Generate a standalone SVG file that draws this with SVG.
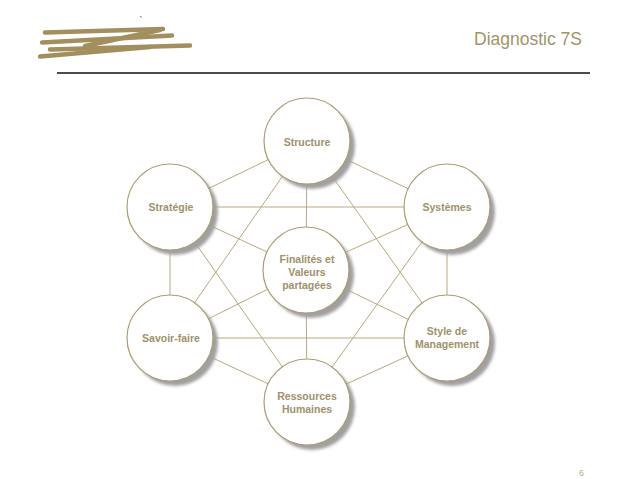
<svg xmlns="http://www.w3.org/2000/svg" width="638" height="479" viewBox="0 0 638 479">
<defs>
<filter id="blur" x="-20%" y="-20%" width="140%" height="140%"><feGaussianBlur stdDeviation="1.5"/></filter>
<style>
.title{font-family:"Liberation Sans",Arial,sans-serif;font-size:17.5px;fill:#a09469}
.pg{font-family:"Liberation Sans",Arial,sans-serif;font-size:9px;fill:#b8ad8a}
.lbl{font-family:"Liberation Sans",Arial,sans-serif;font-size:10.5px;font-weight:bold;fill:#a0916a;text-anchor:middle}
.conn line{stroke:#b9a97f;stroke-width:1}
.sh{fill:#a0a0a0;filter:url(#blur)}
.nd{fill:#ffffff;stroke:#ab9c72;stroke-width:1.2}
.scr{stroke:#a38f5d;stroke-width:4.5;stroke-linecap:round;fill:none}
</style>
</defs>
<rect width="638" height="479" fill="#ffffff"/>
<g id="header">
<path class="scr" d="M45 32.5 L163 29"/>
<path class="scr" d="M42 42.5 L172 35.5"/>
<path class="scr" d="M50 49.5 L190 45.5"/>
<path class="scr" d="M40 56.5 L150 47"/>
<path class="scr" d="M85 46 L160 30"/>
<text x="139" y="26" style="font-family:'Liberation Sans',Arial,sans-serif;font-size:12px;fill:#8f7f55">`</text>
<text class="title" x="474" y="45">Diagnostic 7S</text>
<line x1="57" y1="73" x2="590" y2="73" stroke="#111" stroke-width="1.4"/>
</g>
<g id="connectors" class="conn">
<line x1="307" y1="141" x2="170" y2="207"/>
<line x1="307" y1="141" x2="447" y2="207"/>
<line x1="307" y1="141" x2="306" y2="270"/>
<line x1="307" y1="141" x2="170" y2="338"/>
<line x1="307" y1="141" x2="447" y2="338"/>
<line x1="170" y1="207" x2="447" y2="207"/>
<line x1="170" y1="207" x2="306" y2="270"/>
<line x1="170" y1="207" x2="170" y2="338"/>
<line x1="170" y1="207" x2="307" y2="402"/>
<line x1="447" y1="207" x2="306" y2="270"/>
<line x1="447" y1="207" x2="447" y2="338"/>
<line x1="447" y1="207" x2="307" y2="402"/>
<line x1="170" y1="338" x2="306" y2="270"/>
<line x1="170" y1="338" x2="447" y2="338"/>
<line x1="170" y1="338" x2="307" y2="402"/>
<line x1="447" y1="338" x2="306" y2="270"/>
<line x1="447" y1="338" x2="307" y2="402"/>
<line x1="306" y1="270" x2="307" y2="402"/>
</g>
<g id="structure">
<circle class="sh" cx="312" cy="146" r="43"/>
<circle class="nd" cx="307" cy="141" r="43"/>
<text class="lbl" x="307" y="145.5">Structure</text>
</g>
<g id="strategie">
<circle class="sh" cx="175" cy="212" r="43"/>
<circle class="nd" cx="170" cy="207" r="43"/>
<text class="lbl" x="171" y="210.5">Stratégie</text>
</g>
<g id="systemes">
<circle class="sh" cx="452" cy="212" r="43"/>
<circle class="nd" cx="447" cy="207" r="43"/>
<text class="lbl" x="447" y="210.5">Systèmes</text>
</g>
<g id="finalites">
<circle class="sh" cx="311" cy="275" r="43"/>
<circle class="nd" cx="306" cy="270" r="43"/>
<text class="lbl" x="307" y="262.5">Finalités et</text>
<text class="lbl" x="307" y="275.5">Valeurs</text>
<text class="lbl" x="307" y="288.5">partagées</text>
</g>
<g id="savoir-faire">
<circle class="sh" cx="175" cy="343" r="43"/>
<circle class="nd" cx="170" cy="338" r="43"/>
<text class="lbl" x="171" y="341.5">Savoir-faire</text>
</g>
<g id="style">
<circle class="sh" cx="452" cy="343" r="43"/>
<circle class="nd" cx="447" cy="338" r="43"/>
<text class="lbl" x="447" y="335">Style de</text>
<text class="lbl" x="447" y="347.5">Management</text>
</g>
<g id="ressources">
<circle class="sh" cx="312" cy="407" r="43"/>
<circle class="nd" cx="307" cy="402" r="43"/>
<text class="lbl" x="307" y="400">Ressources</text>
<text class="lbl" x="307" y="412.5">Humaines</text>
</g>
<text class="pg" x="579" y="476">6</text>
</svg>
